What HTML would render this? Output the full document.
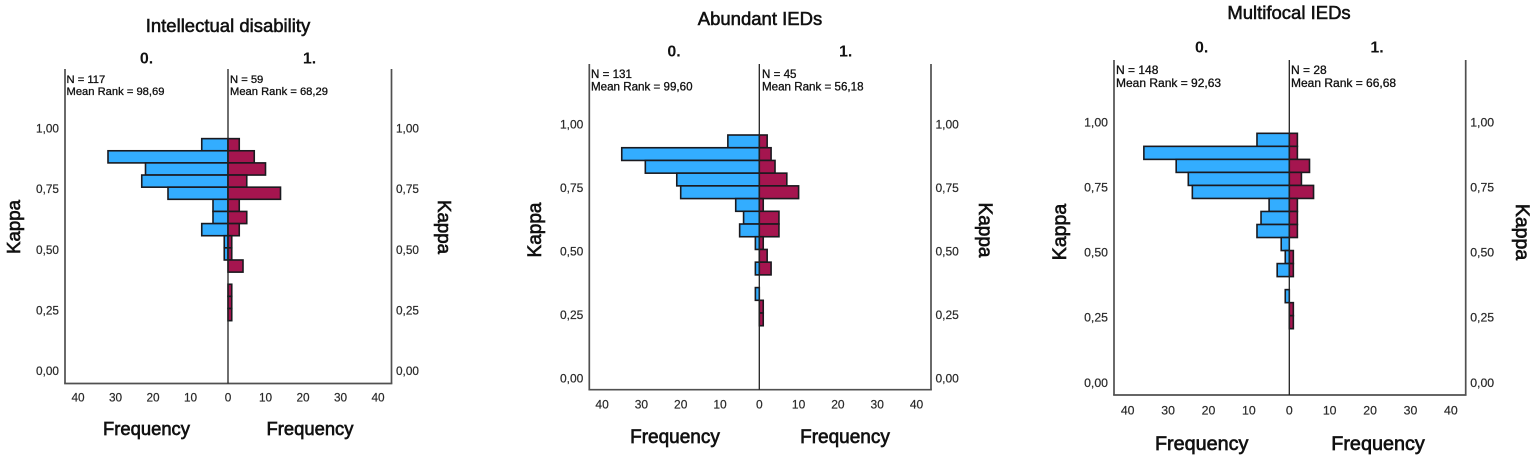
<!DOCTYPE html>
<html lang="en">
<head>
<meta charset="utf-8">
<title>Kappa population pyramids</title>
<style>
html,body{margin:0;padding:0;background:#fff;}
svg{display:block;filter:blur(.35px);}
text{font-family:"Liberation Sans",Arial,sans-serif;}
.title{fill:#111;stroke:#111;stroke-width:.55;text-anchor:middle;}
.group{fill:#111;font-weight:bold;text-anchor:middle;font-size:16px;}
.axis-title{fill:#111;stroke:#111;stroke-width:.65;text-anchor:middle;}
.note{fill:#111;stroke:#111;stroke-width:.3;}
</style>
</head>
<body>
<svg id="chart" xmlns="http://www.w3.org/2000/svg" width="1535" height="459" viewBox="0 0 1535 459">
  <g id="panel-a">
    <text class="title" x="228" y="32" font-size="18.5">Intellectual disability</text>
    <text class="group" x="146.5" y="63.5">0.</text>
    <text class="group" x="309.5" y="63.5">1.</text>
    <text class="note" x="66.5" y="83" font-size="11.2">N = 117</text>
    <text class="note" x="66.5" y="95" font-size="11.2">Mean Rank = 98,69</text>
    <text class="note" x="230" y="83" font-size="11.2">N = 59</text>
    <text class="note" x="230" y="95" font-size="11.2">Mean Rank = 68,29</text>
    <text class="axis-title" x="146.5" y="435" font-size="18.4">Frequency</text>
    <text class="axis-title" x="310" y="435" font-size="18.4">Frequency</text>
    <text class="axis-title" transform="translate(20 227) rotate(-90)" font-size="18.7">Kappa</text>
    <text class="axis-title" transform="translate(438 227) rotate(90)" font-size="18.7">Kappa</text>
  </g>
  <g id="panel-b">
    <text class="title" x="760" y="25" font-size="18.5">Abundant IEDs</text>
    <text class="group" x="674" y="56.5">0.</text>
    <text class="group" x="845.7" y="56.5">1.</text>
    <text class="note" x="591" y="78" font-size="11.6">N = 131</text>
    <text class="note" x="591" y="90.5" font-size="11.6">Mean Rank = 99,60</text>
    <text class="note" x="762" y="78" font-size="11.6">N = 45</text>
    <text class="note" x="762" y="90.5" font-size="11.6">Mean Rank = 56,18</text>
    <text class="axis-title" x="675" y="443" font-size="19">Frequency</text>
    <text class="axis-title" x="845" y="443" font-size="19">Frequency</text>
    <text class="axis-title" transform="translate(541 230) rotate(-90)" font-size="19">Kappa</text>
    <text class="axis-title" transform="translate(979 230) rotate(90)" font-size="19">Kappa</text>
  </g>
  <g id="panel-c">
    <text class="title" x="1289" y="19" font-size="18.5">Multifocal IEDs</text>
    <text class="group" x="1201.7" y="52.5">0.</text>
    <text class="group" x="1377" y="52.5">1.</text>
    <text class="note" x="1116" y="74" font-size="12">N = 148</text>
    <text class="note" x="1116" y="87" font-size="12">Mean Rank = 92,63</text>
    <text class="note" x="1291" y="74" font-size="12">N = 28</text>
    <text class="note" x="1291" y="87" font-size="12">Mean Rank = 66,68</text>
    <text class="axis-title" x="1201.7" y="450" font-size="19.8">Frequency</text>
    <text class="axis-title" x="1378" y="450" font-size="19.8">Frequency</text>
    <text class="axis-title" transform="translate(1066 232) rotate(-90)" font-size="19.5">Kappa</text>
    <text class="axis-title" transform="translate(1516 232) rotate(90)" font-size="19.5">Kappa</text>
  </g>
</svg>
<script>
// Histogram bins: upper kappa edge of each bin, top to bottom.
var binUpperEdges = [0.95, 0.90, 0.85, 0.80, 0.75, 0.70, 0.65, 0.60, 0.55, 0.50, 0.45, 0.40, 0.35, 0.30, 0.25];
var binWidth = 0.05;

// Frequencies per bin.
var intellectualGroup0 = [7, 32, 22, 23, 16, 4, 4, 7, 1, 1, 0, 0, 0, 0, 0];
var intellectualGroup1 = [3, 7, 10, 5, 14, 3, 5, 3, 1, 1, 4, 0, 1, 1, 1];
var abundantGroup0 = [8, 35, 29, 21, 20, 6, 4, 5, 1, 0, 1, 0, 1, 0, 0];
var abundantGroup1 = [2, 3, 4, 7, 10, 1, 5, 5, 1, 2, 3, 0, 0, 1, 1];
var multifocalGroup0 = [8, 36, 28, 25, 24, 5, 7, 8, 2, 1, 3, 0, 1, 0, 0];
var multifocalGroup1 = [2, 2, 5, 3, 6, 2, 2, 2, 0, 1, 1, 0, 0, 1, 1];

// Tick values and labels.
var kappaTicks = [0, 0.25, 0.5, 0.75, 1];
var kappaTickLabels = ['0,00', '0,25', '0,50', '0,75', '1,00'];
var frequencyTicks = [0, 10, 20, 30, 40];
var frequencyTickLabels = ['0', '10', '20', '30', '40'];

// Panel layout (frame plus axis scale factors).
var panelA = {id: 'panel-a', left: 65, center: 228, right: 391.5, top: 69, bottom: 383.5, y0: 369.2, pxPerKappa: 242.7, pxPerFreq: 3.75, tickFont: 11.8, xTickY: 401.5, labelGap: 6, values0: intellectualGroup0, values1: intellectualGroup1};
var panelB = {id: 'panel-b', left: 589.3, center: 759.3, right: 931, top: 64, bottom: 389.7, y0: 376.6, pxPerKappa: 254.3, pxPerFreq: 3.93, tickFont: 12, xTickY: 408.5, labelGap: 6, values0: abundantGroup0, values1: abundantGroup1};
var panelC = {id: 'panel-c', left: 1114, center: 1289.3, right: 1465.7, top: 60, bottom: 395, y0: 380.8, pxPerKappa: 260.5, pxPerFreq: 4.04, tickFont: 12.3, xTickY: 414.5, labelGap: 6, values0: multifocalGroup0, values1: multifocalGroup1};
var panels = [panelA, panelB, panelC];

var SVG_NS = 'http://www.w3.org/2000/svg';

function yScale(p, kappa) {
  return p.y0 - kappa * p.pxPerKappa;
}
function xScale(p, side, freq) {
  return p.center + side * freq * p.pxPerFreq;
}
function make(tag, attrs, parent) {
  var el = document.createElementNS(SVG_NS, tag);
  Object.keys(attrs).forEach(function (k) { el.setAttribute(k, attrs[k]); });
  parent.appendChild(el);
  return el;
}
function drawLine(g, x1, y1, x2, y2, color, width, name) {
  var el = make('line', {x1: x1, y1: y1, x2: x2, y2: y2, stroke: color, 'stroke-width': width}, g);
  
  
}
function drawBars(g, p, values, side, fill, name) {
  values.forEach(function (freq, i) {
    if (!freq) { return; }
    var yTop = yScale(p, binUpperEdges[i]);
    var yBottom = yScale(p, binUpperEdges[i] - binWidth);
    var x0 = xScale(p, side, 0);
    var x1 = xScale(p, side, freq);
    var el = make('rect', {
      x: Math.min(x0, x1), y: yTop, width: Math.abs(x1 - x0), height: yBottom - yTop,
      fill: fill, stroke: '#1a1a1f', 'stroke-width': 1.6
    }, g);
    
    
  });
}
function drawTickLabel(g, x, y, text, anchor, size, name) {
  var el = make('text', {x: x, y: y, 'text-anchor': anchor, 'font-size': size, fill: '#2a2a2a', stroke: '#2a2a2a', 'stroke-width': 0.2}, g);
  el.textContent = text;
  
  
}

panels.forEach(function (p) {
  var g = document.getElementById(p.id);
  drawBars(g, p, p.values0, -1, '#33adff', 'bar-group-0');
  drawBars(g, p, p.values1, 1, '#a5154f', 'bar-group-1');

  drawLine(g, p.left, p.top, p.left, p.bottom, '#505050', 1.7, 'left-axis-line');
  drawLine(g, p.right, p.top, p.right, p.bottom, '#505050', 1.7, 'right-axis-line');
  drawLine(g, p.left - 0.85, p.bottom, p.right + 0.85, p.bottom, '#505050', 1.7, 'bottom-axis-line');
  drawLine(g, p.center, p.top, p.center, p.bottom, '#222222', 1.3, 'center-divider-line');

  kappaTicks.forEach(function (k, i) {
    var y = yScale(p, k) + p.labelGap;
    drawTickLabel(g, p.left - p.labelGap, y, kappaTickLabels[i], 'end', p.tickFont, 'y-tick-label-left');
    drawTickLabel(g, p.right + 4.5, y, kappaTickLabels[i], 'start', p.tickFont, 'y-tick-label-right');
  });
  frequencyTicks.forEach(function (f, i) {
    drawTickLabel(g, xScale(p, -1, f), p.xTickY, frequencyTickLabels[i], 'middle', p.tickFont, 'x-tick-label-left');
    if (f !== 0) {
      drawTickLabel(g, xScale(p, 1, f), p.xTickY, frequencyTickLabels[i], 'middle', p.tickFont, 'x-tick-label-right');
    }
  });
});
</script>
</body>
</html>
